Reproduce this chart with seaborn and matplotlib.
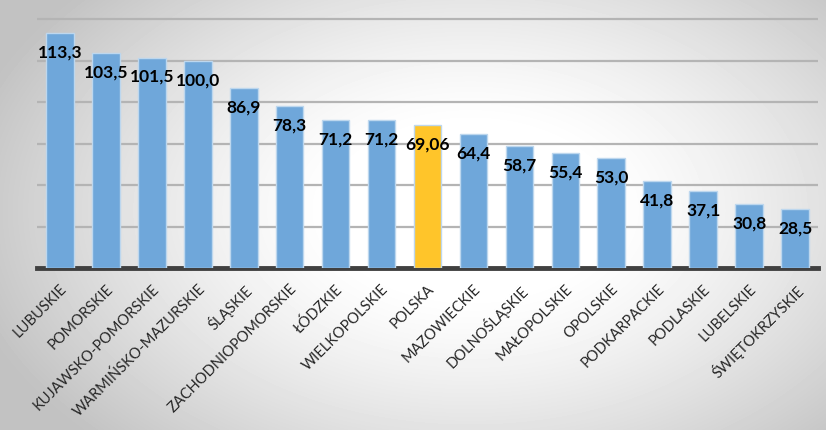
import matplotlib
matplotlib.use('Agg')
import matplotlib.pyplot as plt
import numpy as np
import pandas as pd
import seaborn as sns

# data
regions = ['LUBUSKIE', 'POMORSKIE', 'KUJAWSKO-POMORSKIE', 'WARMIŃSKO-MAZURSKIE',
           'ŚLĄSKIE', 'ZACHODNIOPOMORSKIE', 'ŁÓDZKIE', 'WIELKOPOLSKIE', 'POLSKA',
           'MAZOWIECKIE', 'DOLNOŚLĄSKIE', 'MAŁOPOLSKIE', 'OPOLSKIE', 'PODKARPACKIE',
           'PODLASKIE', 'LUBELSKIE', 'ŚWIĘTOKRZYSKIE']
values = [113.3, 103.5, 101.5, 100.0, 86.9, 78.3, 71.2, 71.2, 69.06,
          64.4, 58.7, 55.4, 53.0, 41.8, 37.1, 30.8, 28.5]
labels = ['113,3', '103,5', '101,5', '100,0', '86,9', '78,3', '71,2', '71,2', '69,06',
          '64,4', '58,7', '55,4', '53,0', '41,8', '37,1', '30,8', '28,5']

df = pd.DataFrame({'region': regions, 'value': values})
blue = '#6FA7DA'
gold = '#FFC52A'
palette = [gold if r == 'POLSKA' else blue for r in regions]

sns.set_style('white')
plt.rcParams['font.family'] = ['Lato', 'DejaVu Sans']

fig = plt.figure(figsize=(8.26, 4.3), dpi=100)

# radial grey-to-white background
bg = fig.add_axes([0, 0, 1, 1], zorder=0)
yy, xx = np.mgrid[0:430, 0:826]
d = np.sqrt(((xx - 470) / 520.0) ** 2 + ((yy - 210) / 330.0) ** 2)
shade = 1.0 - 0.24 * np.clip((d - 0.25) / 0.75, 0, 1) ** 1.3
bg.imshow(shade, cmap='gray', vmin=0, vmax=1, aspect='auto', interpolation='bilinear')
bg.axis('off')

ax = fig.add_axes([37 / 826, 162 / 430, 781 / 826, 253 / 430], zorder=1)
ax.patch.set_alpha(0)
sns.barplot(data=df, x='region', y='value', hue='region', palette=palette,
            legend=False, width=0.6, saturation=1, edgecolor='#BDD7EE',
            linewidth=1.0, ax=ax, zorder=3)

ax.set_ylim(0, 122)
ax.set_xlim(-0.5, len(regions) - 0.5)
ax.set_yticks([20, 40, 60, 80, 100, 120])
ax.yaxis.grid(True, color='#B4B4B4', linewidth=1.6, zorder=0)
ax.set_axisbelow(True)
ax.tick_params(axis='y', left=False, labelleft=False)
for s in ['top', 'right', 'left']:
    ax.spines[s].set_visible(False)
ax.spines['bottom'].set_color('#404040')
ax.spines['bottom'].set_linewidth(3.5)
ax.set_xlabel('')
ax.set_ylabel('')

ax.set_xticks(range(len(regions)))
ax.set_xticklabels(regions, rotation=45, ha='right', rotation_mode='anchor',
                   fontsize=10.5, color='#262626')
ax.tick_params(axis='x', length=0, pad=10)

for i, (v, t) in enumerate(zip(values, labels)):
    ax.annotate(t, (i, v), xytext=(0, -14), textcoords='offset points',
                ha='center', va='center', fontsize=12.5, fontweight='bold',
                color='black', zorder=5)

fig.savefig('out.png', dpi=100)
